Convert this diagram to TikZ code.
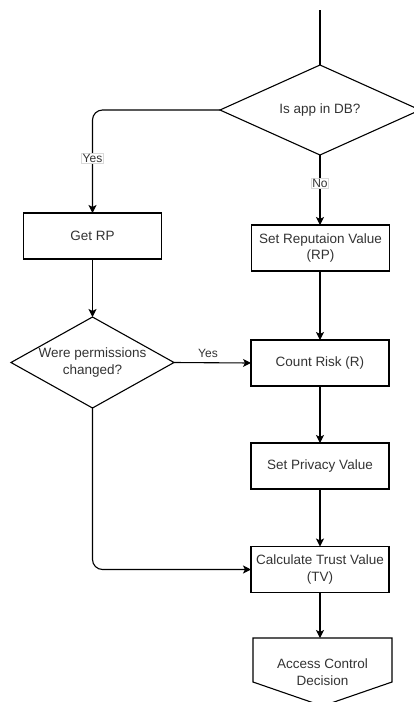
\documentclass[tikz,border=0pt]{standalone}
\usepackage{fontspec}
\setmainfont{Liberation Sans}
\usetikzlibrary{shapes.geometric,arrows.meta,calc}
\definecolor{ink}{HTML}{333333}
\tikzset{
  every node/.style={outer sep=0pt, text=ink},
  stepbox/.style={draw=black, line width=1.1pt, rectangle, minimum width=138pt,
    minimum height=46pt, align=center, inner sep=2pt,
    font=\fontsize{13.5}{16.5}\selectfont},
  choice/.style={draw=black, line width=1.1pt, diamond, align=center, inner sep=0pt,
    font=\fontsize{13.5}{16.5}\selectfont},
  flow/.style={draw=black, line width=1.1pt, rounded corners=10pt,
    -{Stealth[length=8pt,width=8pt,inset=2pt]}},
  plainline/.style={draw=black, line width=1.1pt},
  tag/.style={fill=white, draw=black!15, line width=0.5pt, inner sep=1pt,
    font=\fontsize{12}{14}\selectfont}
}
\begin{document}
\begin{tikzpicture}[x=1pt, y=-1pt]
  \useasboundingbox (0,0) rectangle (414,702);

  % decision and process nodes
  \node[choice, aspect=2.2, minimum width=200pt, minimum height=90pt] (db) at (320,110) {Is app in DB?};
  \node[stepbox] (getrp) at (92.5,236) {Get RP};
  \node[stepbox] (setrp) at (320.5,248) {Set Reputaion Value\\(RP)};
  \node[choice, aspect=1.9, minimum width=160pt, minimum height=91pt] (perm) at (92.5,362.5) {Were permissions\\changed?};
  \node[stepbox] (risk) at (320,363) {Count Risk (R)};
  \node[stepbox] (priv) at (320,466) {Set Privacy Value};
  \node[stepbox] (tv) at (320,569.5) {Calculate Trust Value\\(TV)};

  % off-page connector
  \node[rectangle, minimum width=139pt, minimum height=68pt, align=center, inner sep=0pt,
    font=\fontsize{13.5}{16.5}\selectfont] (acd) at (322.5,672) {Access Control\\Decision};
  \draw[plainline, line join=miter] (acd.north west) -- (acd.north east)
    -- ($(acd.north east)+(0,44)$) -- (acd.south) -- ($(acd.north west)+(0,44)$) -- cycle;

  % incoming line at the top
  \coordinate (entry) at (320,10);
  \draw[plainline] (entry) -- (db.north);

  % connectors
  \draw[flow] (db.west) -- (getrp.north |- db.west) -- (getrp.north);
  \node[tag] at (92.5,158) {Yes};
  \draw[flow] (db.south) -- (setrp.north -| db.south);
  \node[tag] at (320,183) {No};
  \draw[flow] (getrp.south) -- (perm.north);
  \draw[flow] (setrp.south -| risk.north) -- (risk.north);
  \draw[flow] (perm.east) -- (risk.west);
  \node[tag, draw=none] at (208,353) {Yes};
  \draw[flow] (risk.south) -- (priv.north);
  \draw[flow] (priv.south) -- (tv.north);
  \draw[flow] (perm.south) -- (perm.south |- tv.west) -- (tv.west);
  \draw[flow] (tv.south) -- (tv.south |- acd.north);
\end{tikzpicture}
\end{document}
